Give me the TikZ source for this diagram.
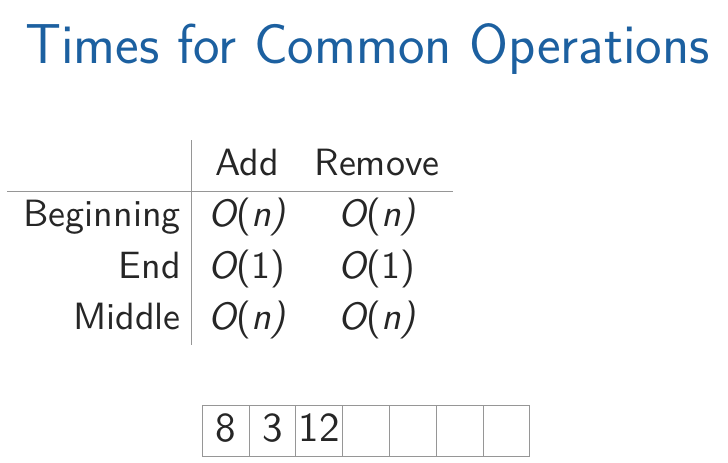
\documentclass[tikz,border=0pt]{standalone}
\usepackage{fontspec}
\usepackage{tikz}
\usetikzlibrary{positioning}
\newfontfamily\tabsf{lmsans10-regular}[Extension=.otf, ItalicFont=lmsans10-oblique]
\definecolor{titleblue}{RGB}{28,96,160}
\definecolor{rulegray}{RGB}{150,150,150}
\tikzstyle{heading} = [inner sep=0pt, anchor=base west, text=titleblue,
font=\sffamily\fontsize{56.3}{60}\selectfont]
\tikzstyle{colhead} = [inner sep=0pt, anchor=base, text=black!85,
font=\tabsf\fontsize{38}{42}\selectfont]
\tikzstyle{rowhead} = [colhead, anchor=base east]
\tikzstyle{entry} = [colhead]
\tikzstyle{rule} = [draw=rulegray, line width=1pt]
\tikzstyle{slot} = [rectangle, draw=rulegray, line width=1pt, minimum
    width=46.8pt, minimum height=51.7pt, inner sep=0pt, text depth=6pt,
text=black!85, font=\tabsf\fontsize{41}{44}\selectfont]
\newcommand{\bigO}[1]{{\itshape O}(#1)}

\begin{document}
\begin{tikzpicture}[x=1pt, y=-1pt, node distance=46.8pt]
            \useasboundingbox (0,0) rectangle (728,463);
            % Title
            \node[heading] (title) at (25,63) {Times for Common Operations};
            % Table headers
            \node[colhead] (add) at (247,175) {Add};
            \node[colhead] (rem) at (377,175) {Remove};
            \node[rowhead] (begrow) at (181,226) {Beginning};
            \node[rowhead] (endrow) at (181,278) {End};
            \node[rowhead] (midrow) at (181,329) {Middle};
            % Table entries
            \node[entry] (begadd) at (247,226) {\bigO{\itshape n}};
            \node[entry] (begrem) at (377,226) {\bigO{\itshape n}};
            \node[entry] (endadd) at (247,278) {\bigO{1}};
            \node[entry] (endrem) at (377,278) {\bigO{1}};
            \node[entry] (midadd) at (247,329) {\bigO{\itshape n}};
            \node[entry] (midrem) at (377,329) {\bigO{\itshape n}};
            % Rules
            \coordinate (hl) at (7,191.7);
            \coordinate (hr) at (453,191.7);
            \coordinate (vt) at (191.7,140);
            \coordinate (vb) at (191.7,345);
            \draw[rule] (hl) -- (hr);
            \draw[rule] (vt) -- (vb);
            % Array
            \node[slot] (s1) at (225.7,431) {8};
            \node[slot, right of=s1] (s2) {3};
            \node[slot, right of=s2] (s3) {12};
            \node[slot, right of=s3] (s4) {};
            \node[slot, right of=s4] (s5) {};
            \node[slot, right of=s5] (s6) {};
            \node[slot, right of=s6] (s7) {};

        \end{tikzpicture}
\end{document}
